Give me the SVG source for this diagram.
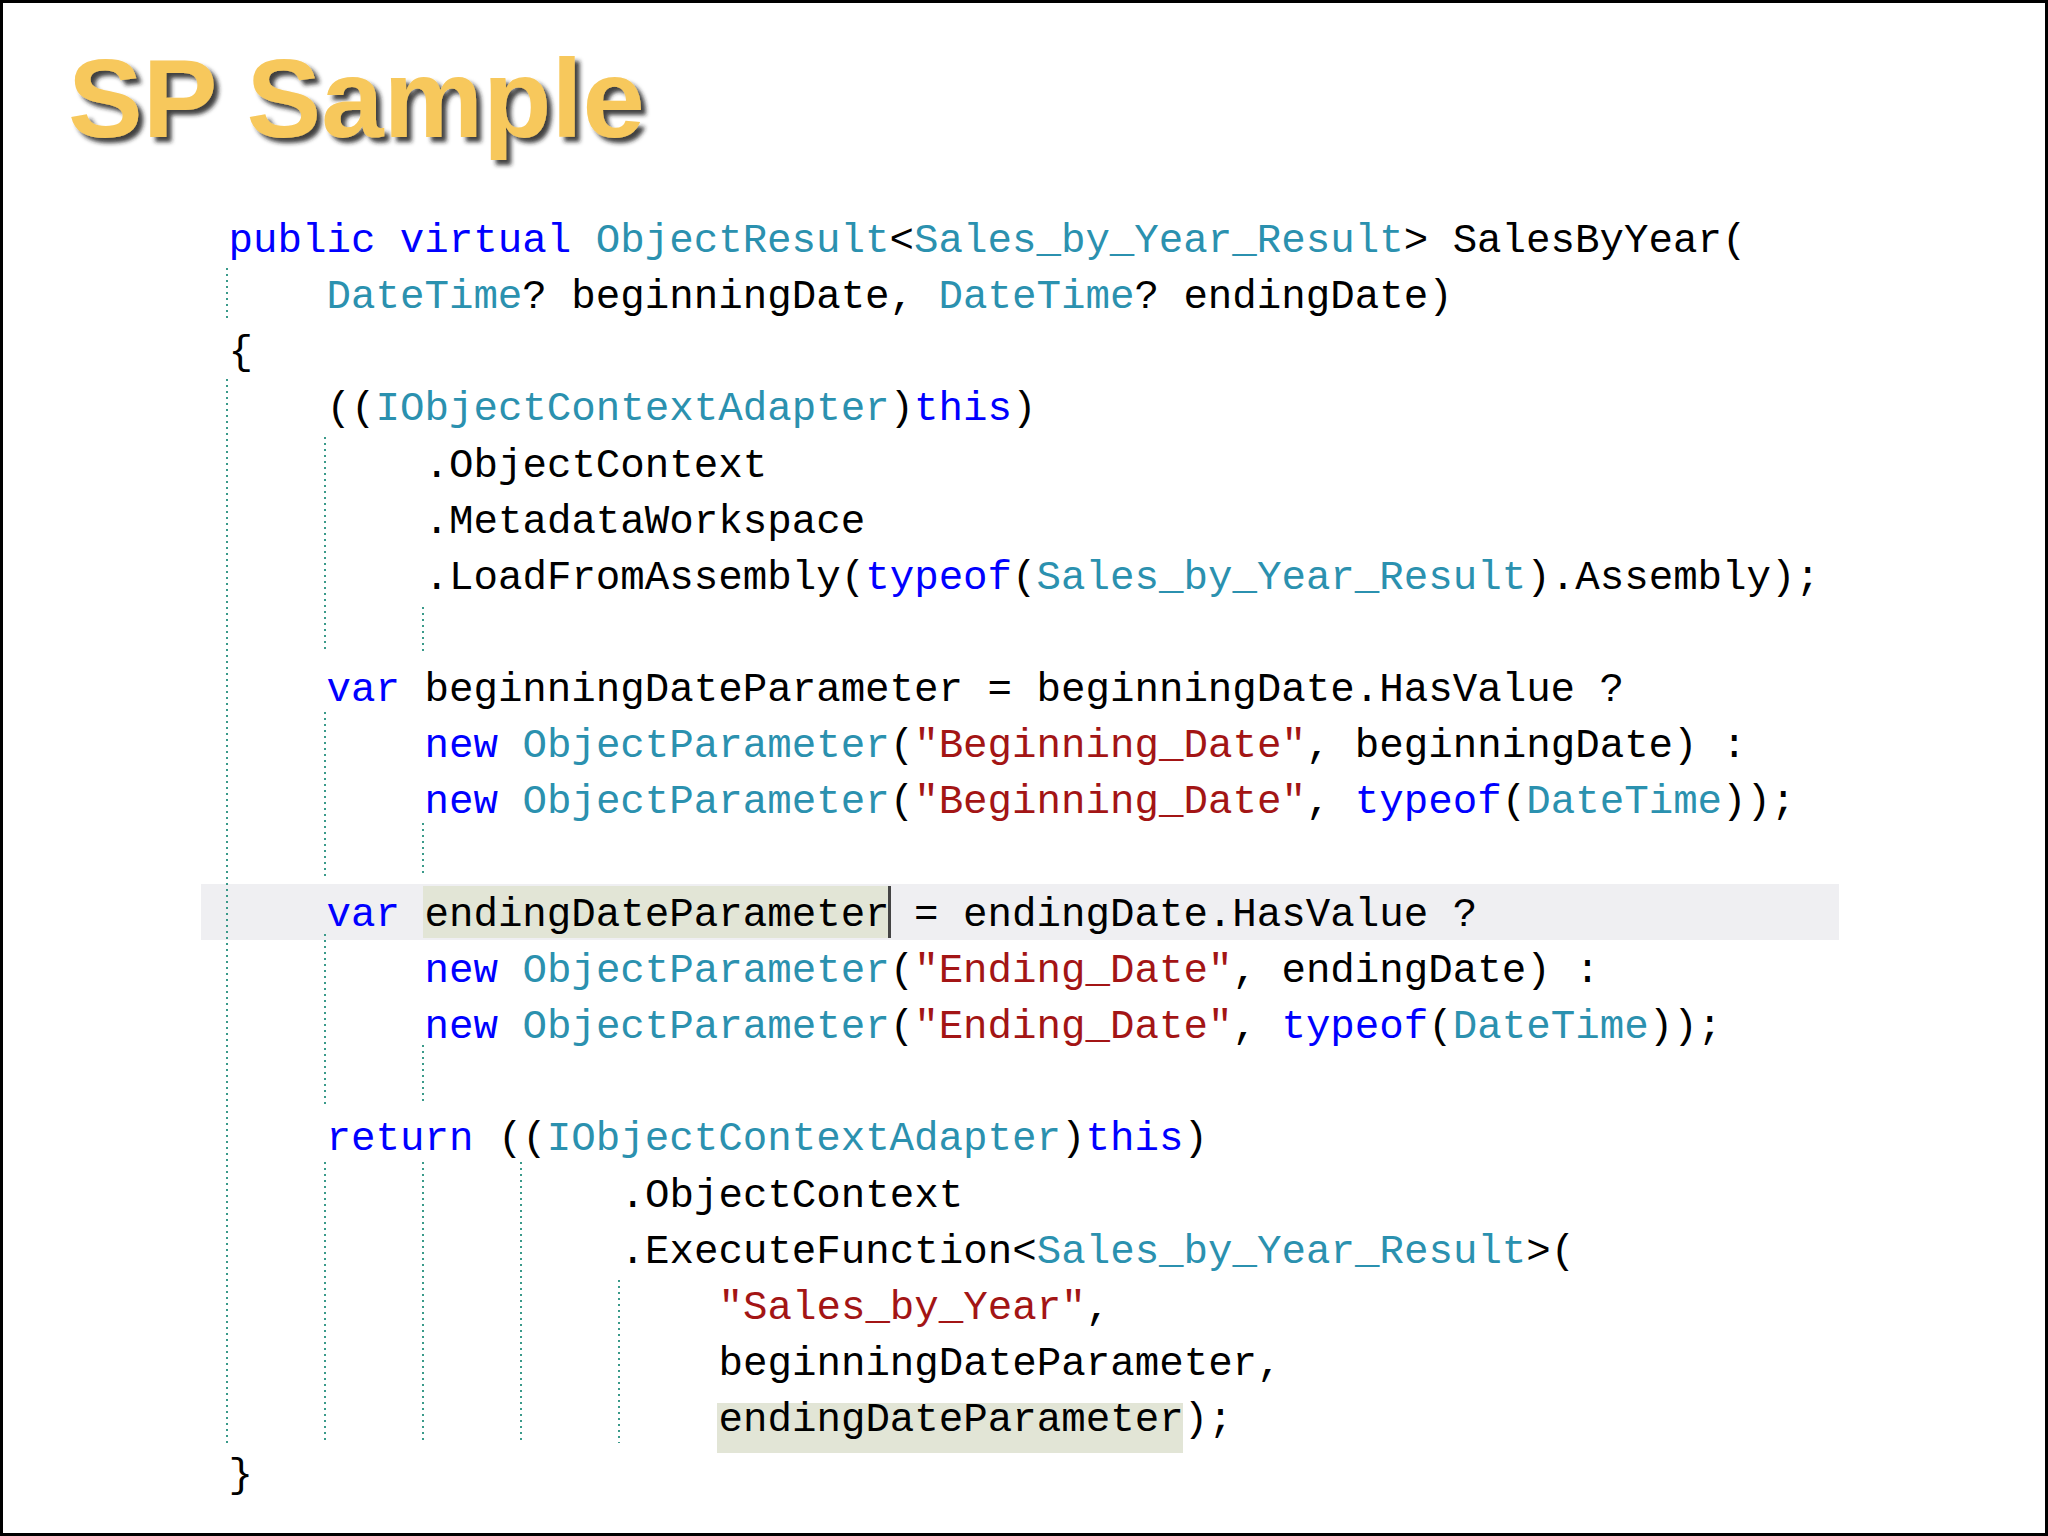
<svg xmlns="http://www.w3.org/2000/svg" width="2048" height="1536" viewBox="0 0 2048 1536">
<defs>
<style>
.c{font-family:"Liberation Mono","DejaVu Sans Mono",monospace;font-size:40.8px;fill:#000}
.k{fill:#0000ff}.t{fill:#2b91af}.s{fill:#a31515}
.g{stroke:#3a9a8a;stroke-width:2;stroke-dasharray:2 4}
.title{font-family:"Liberation Sans",Arial,sans-serif;font-weight:bold;font-size:112px}
</style>
<filter id="sh" x="-10%" y="-20%" width="130%" height="150%">
<feDropShadow dx="5" dy="5" stdDeviation="2" flood-color="#222" flood-opacity="0.85"/>
</filter>
</defs>
<rect x="0" y="0" width="2048" height="1536" fill="#fff" stroke="#000" stroke-width="6"/>
<g id="title">
<text class="title" x="68" y="137" fill="#f7c85c" filter="url(#sh)">SP Sample</text>
</g>
<g id="highlights">
<rect x="201" y="884" width="1638" height="56" fill="#efeff2"/>
<rect x="423" y="886" width="466" height="52" fill="#e2e5d6"/>
<rect x="888" y="886" width="3" height="52" fill="#444"/>
<rect x="717" y="1403" width="466" height="50" fill="#e2e5d6"/>
</g>
<g id="guides">
<line class="g" x1="227" y1="268" x2="227" y2="320"/>
<line class="g" x1="227" y1="379" x2="227" y2="1443"/>
<line class="g" x1="325" y1="437" x2="325" y2="653"/>
<line class="g" x1="325" y1="712" x2="325" y2="876"/>
<line class="g" x1="325" y1="934" x2="325" y2="1104"/>
<line class="g" x1="325" y1="1162" x2="325" y2="1443"/>
<line class="g" x1="423" y1="607" x2="423" y2="653"/>
<line class="g" x1="423" y1="823" x2="423" y2="876"/>
<line class="g" x1="423" y1="1045" x2="423" y2="1104"/>
<line class="g" x1="423" y1="1162" x2="423" y2="1443"/>
<line class="g" x1="521" y1="1162" x2="521" y2="1443"/>
<line class="g" x1="619" y1="1280" x2="619" y2="1443"/>
</g>
<g id="code" class="c">
<text x="228.5" y="252"><tspan class="k">public virtual</tspan> <tspan class="t">ObjectResult</tspan>&lt;<tspan class="t">Sales_by_Year_Result</tspan>&gt; SalesByYear(</text>
<text x="326.5" y="308"><tspan class="t">DateTime</tspan>? beginningDate, <tspan class="t">DateTime</tspan>? endingDate)</text>
<text x="228.5" y="364">{</text>
<text x="326.5" y="420">((<tspan class="t">IObjectContextAdapter</tspan>)<tspan class="k">this</tspan>)</text>
<text x="424.5" y="477">.ObjectContext</text>
<text x="424.5" y="533">.MetadataWorkspace</text>
<text x="424.5" y="589">.LoadFromAssembly(<tspan class="k">typeof</tspan>(<tspan class="t">Sales_by_Year_Result</tspan>).Assembly);</text>
<text x="326.5" y="701"><tspan class="k">var</tspan> beginningDateParameter = beginningDate.HasValue ?</text>
<text x="424.5" y="757"><tspan class="k">new</tspan> <tspan class="t">ObjectParameter</tspan>(<tspan class="s">"Beginning_Date"</tspan>, beginningDate) :</text>
<text x="424.5" y="813"><tspan class="k">new</tspan> <tspan class="t">ObjectParameter</tspan>(<tspan class="s">"Beginning_Date"</tspan>, <tspan class="k">typeof</tspan>(<tspan class="t">DateTime</tspan>));</text>
<text x="326.5" y="926"><tspan class="k">var</tspan> endingDateParameter = endingDate.HasValue ?</text>
<text x="424.5" y="982"><tspan class="k">new</tspan> <tspan class="t">ObjectParameter</tspan>(<tspan class="s">"Ending_Date"</tspan>, endingDate) :</text>
<text x="424.5" y="1038"><tspan class="k">new</tspan> <tspan class="t">ObjectParameter</tspan>(<tspan class="s">"Ending_Date"</tspan>, <tspan class="k">typeof</tspan>(<tspan class="t">DateTime</tspan>));</text>
<text x="326.5" y="1150"><tspan class="k">return</tspan> ((<tspan class="t">IObjectContextAdapter</tspan>)<tspan class="k">this</tspan>)</text>
<text x="620.5" y="1207">.ObjectContext</text>
<text x="620.5" y="1263">.ExecuteFunction&lt;<tspan class="t">Sales_by_Year_Result</tspan>&gt;(</text>
<text x="718.5" y="1319"><tspan class="s">"Sales_by_Year"</tspan>,</text>
<text x="718.5" y="1375">beginningDateParameter,</text>
<text x="718.5" y="1431">endingDateParameter);</text>
<text x="228.5" y="1487">}</text>
</g>
</svg>
